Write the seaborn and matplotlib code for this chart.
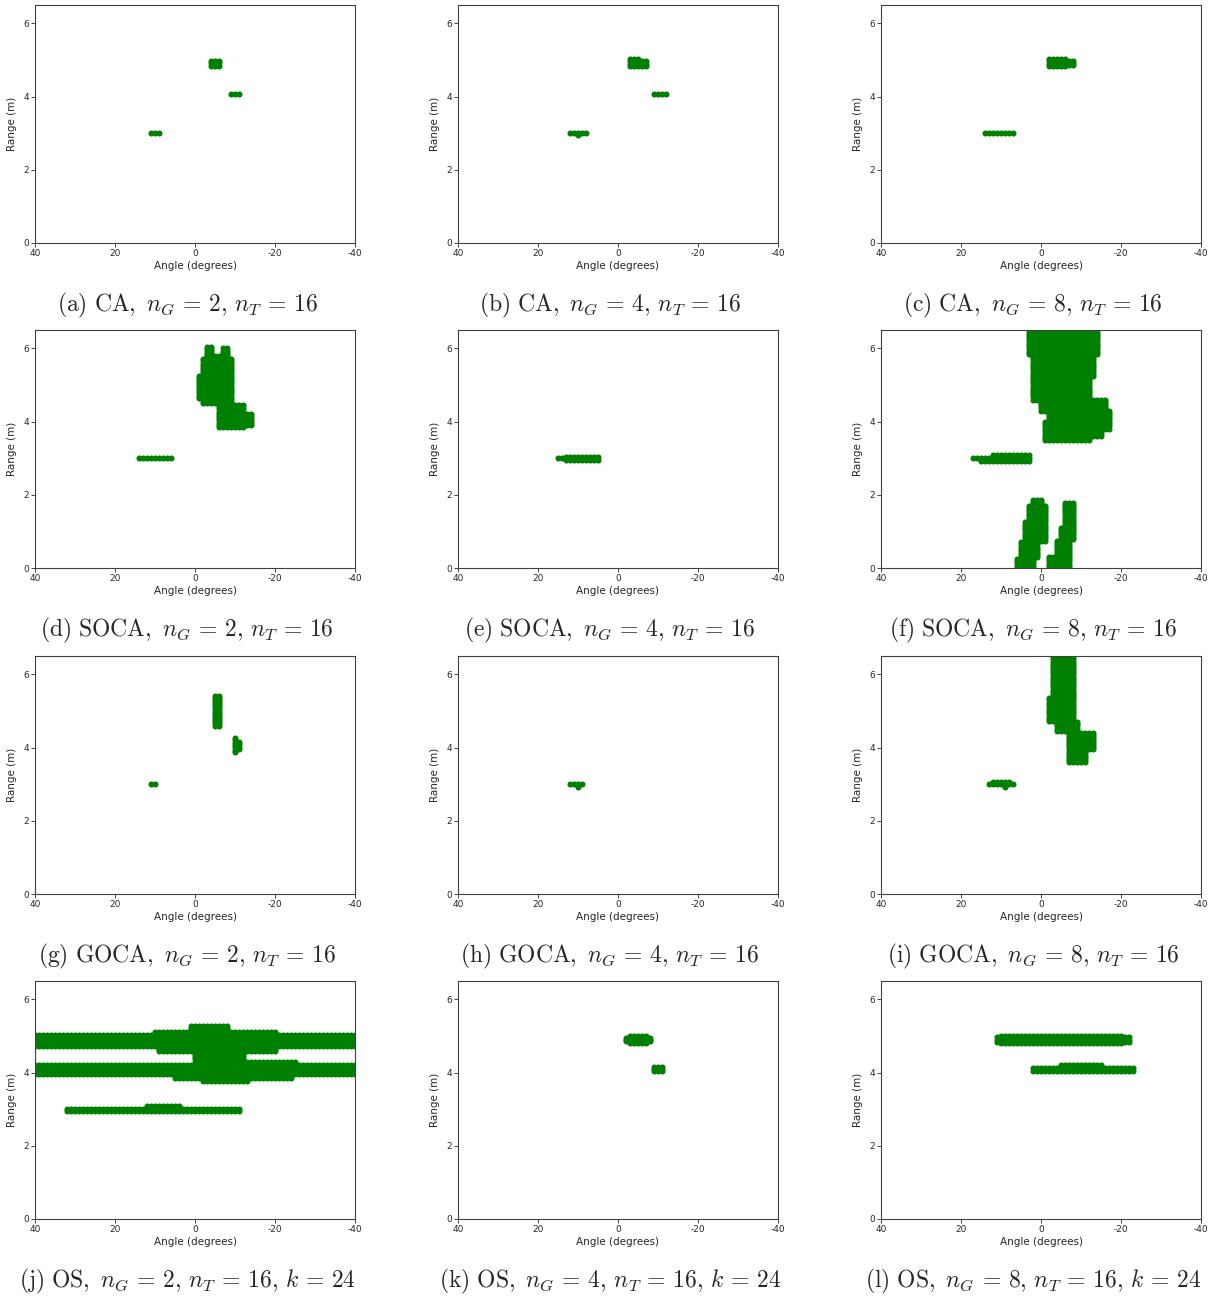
import numpy as np
import pandas as pd
import matplotlib
matplotlib.use("Agg")
import matplotlib.pyplot as plt
import seaborn as sns

# Detection regions on the range-angle grid.
# Each entry: (range_low, range_high, angle_left, angle_right) in metres / degrees.
ca_ng2 = [
    (3.00, 3.00, 11, 9),
    (4.84, 4.97, -4, -6),
    (4.08, 4.08, -9, -11),
]
ca_ng4 = [
    (3.00, 3.00, 12, 8),
    (2.95, 2.95, 10, 10),
    (4.84, 5.02, -3, -5),
    (4.84, 4.96, -6, -7),
    (4.08, 4.08, -9, -12),
]
ca_ng8 = [
    (3.00, 3.00, 14, 7),
    (4.84, 5.02, -2, -6),
    (4.87, 4.97, -7, -8),
]
soca_ng2 = [
    (3.00, 3.00, 14, 6),
    (4.65, 5.25, -1, -2),
    (4.50, 5.70, -2, -9),
    (5.70, 6.04, -3, -4),
    (5.70, 6.00, -7, -8),
    (5.70, 5.80, -3, -8),
    (3.85, 4.45, -6, -12),
    (3.90, 4.20, -13, -14),
]
soca_ng4 = [
    (3.00, 3.00, 15, 13),
    (2.96, 3.04, 13, 5),
]
soca_ng8 = [
    (5.85, 6.70, 3, -14),
    (5.25, 5.85, 2, -13),
    (4.60, 5.25, 2, -12),
    (4.30, 4.60, 0, -16),
    (4.00, 4.30, -2, -17),
    (3.80, 4.00, -1, -17),
    (3.60, 3.80, -1, -15),
    (3.50, 3.60, -1, -12),
    (3.00, 3.00, 17, 3),
    (2.92, 2.92, 15, 3),
    (3.08, 3.08, 12, 3),
    (1.75, 1.86, 2, 0),
    (1.30, 1.70, 3, -1),
    (0.75, 1.25, 4, -1),
    (0.30, 0.70, 5, 1),
    (0.00, 0.25, 6, 2),
    (1.60, 1.78, -6, -8),
    (1.15, 1.55, -6, -8),
    (0.80, 1.10, -5, -8),
    (0.35, 0.75, -4, -7),
    (0.00, 0.30, -2, -7),
]
goca_ng2 = [
    (3.00, 3.00, 11, 10),
    (4.60, 5.42, -5, -6),
    (3.88, 4.26, -10, -10),
    (3.95, 4.15, -11, -11),
]
goca_ng4 = [
    (3.00, 3.00, 12, 9),
    (2.93, 2.93, 10, 10),
]
goca_ng8 = [
    (5.35, 6.70, -3, -8),
    (4.72, 5.35, -2, -8),
    (4.45, 4.70, -4, -9),
    (3.95, 4.40, -7, -13),
    (3.60, 3.95, -7, -11),
    (3.00, 3.00, 13, 7),
    (3.06, 3.06, 12, 8),
    (2.93, 2.93, 9, 9),
]
os_ng2 = [
    (4.72, 5.03, 41, -41),
    (5.05, 5.12, 10, -20),
    (5.15, 5.27, 1, -8),
    (4.60, 4.70, 9, -20),
    (4.30, 4.60, 0, -12),
    (3.96, 4.20, 41, -41),
    (4.22, 4.28, -10, -25),
    (3.85, 3.94, 5, -24),
    (3.78, 3.84, -2, -13),
    (2.96, 3.00, 32, -11),
    (3.05, 3.08, 12, 4),
]
os_ng4 = [
    (4.80, 5.00, -3, -7),
    (4.85, 4.95, -2, -8),
    (4.05, 4.15, -9, -11),
]
os_ng8 = [
    (4.84, 4.96, 11, -22),
    (4.80, 5.00, 10, -20),
    (4.04, 4.12, 2, -23),
    (4.16, 4.20, -5, -15),
]

panels = [ca_ng2, ca_ng4, ca_ng8,
          soca_ng2, soca_ng4, soca_ng8,
          goca_ng2, goca_ng4, goca_ng8,
          os_ng2, os_ng4, os_ng8]

captions = [
    r"$\mathrm{(a)\ CA,}\ n_G\,=\,2,\, n_T\,=\,16$",
    r"$\mathrm{(b)\ CA,}\ n_G\,=\,4,\, n_T\,=\,16$",
    r"$\mathrm{(c)\ CA,}\ n_G\,=\,8,\, n_T\,=\,16$",
    r"$\mathrm{(d)\ SOCA,}\ n_G\,=\,2,\, n_T\,=\,16$",
    r"$\mathrm{(e)\ SOCA,}\ n_G\,=\,4,\, n_T\,=\,16$",
    r"$\mathrm{(f)\ SOCA,}\ n_G\,=\,8,\, n_T\,=\,16$",
    r"$\mathrm{(g)\ GOCA,}\ n_G\,=\,2,\, n_T\,=\,16$",
    r"$\mathrm{(h)\ GOCA,}\ n_G\,=\,4,\, n_T\,=\,16$",
    r"$\mathrm{(i)\ GOCA,}\ n_G\,=\,8,\, n_T\,=\,16$",
    r"$\mathrm{(j)\ OS,}\ n_G\,=\,2,\, n_T\,=\,16,\, k\,=\,24$",
    r"$\mathrm{(k)\ OS,}\ n_G\,=\,4,\, n_T\,=\,16,\, k\,=\,24$",
    r"$\mathrm{(l)\ OS,}\ n_G\,=\,8,\, n_T\,=\,16,\, k\,=\,24$",
]

x_ticks = [40, 20, 0, -20, -40]
y_ticks = [0, 2, 4, 6]

RANGE_STEP = 0.06   # range bin (m)
ANGLE_STEP = 1.0    # angle bin (deg)


def cells(regions):
    """Expand detection regions into individual grid cells."""
    rows = []
    for r_lo, r_hi, a_left, a_right in regions:
        n_r = max(1, int(round((r_hi - r_lo) / RANGE_STEP)) + 1)
        rng = np.linspace(r_lo, r_hi, n_r)
        ang = np.arange(a_right, a_left + 0.5 * ANGLE_STEP, ANGLE_STEP)
        for r in rng:
            for a in ang:
                rows.append((a, r))
    return pd.DataFrame(rows, columns=["angle", "range"]).drop_duplicates()


sns.set_style("ticks")
plt.rcParams["mathtext.fontset"] = "cm"
plt.rcParams["axes.unicode_minus"] = False

W, H = 1217, 1300
fig = plt.figure(figsize=(W / 100, H / 100), dpi=100)

lefts = [35, 458, 881]
bottoms = [243, 568, 894, 1219]
caption_y = [305, 630, 956, 1281]
aw, ah = 320, 238

for idx, regions in enumerate(panels):
    r, c = divmod(idx, 3)
    l, b = lefts[c], bottoms[r]
    ax = fig.add_axes([l / W, 1 - b / H, aw / W, ah / H])
    df = cells(regions)
    sns.scatterplot(data=df, x="angle", y="range", ax=ax, color="green",
                    s=19, linewidth=0, legend=False)
    ax.set_xlim(40, -40)
    ax.set_ylim(0, 6.5)
    ax.set_xticks(x_ticks)
    ax.set_yticks(y_ticks)
    ax.tick_params(labelsize=6.5, length=3, width=0.6, pad=1.5, colors="0.15")
    ax.set_xlabel("Angle (degrees)", fontsize=7.5, labelpad=2)
    ax.set_ylabel("Range (m)", fontsize=7.5, labelpad=4)
    for sp in ax.spines.values():
        sp.set_linewidth(0.8)
        sp.set_color("0.25")
    fig.text((l + aw / 2 - 8) / W, 1 - caption_y[r] / H, captions[idx],
             ha="center", va="center", fontsize=17)

fig.savefig("out.png", dpi=100)
